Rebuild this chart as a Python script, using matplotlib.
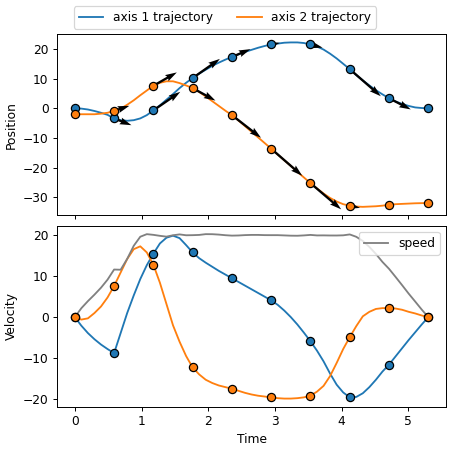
import numpy as np
import matplotlib
matplotlib.use("Agg")
import matplotlib.pyplot as plt
from matplotlib.ticker import MultipleLocator

# waypoints
wp_time = [0.0, 0.589, 1.178, 1.767, 2.356, 2.944, 3.533, 4.122, 4.711, 5.3]
wp_pos1 = [0.0, -3.4, -0.7, 10.2, 17.3, 21.5, 21.5, 13.2, 3.4, 0.0]
wp_pos2 = [-2.0, -0.9, 7.6, 6.8, -2.3, -13.6, -25.2, -32.8, -32.5, -31.9]
wp_vel1 = [0.0, -8.8, 15.5, 15.8, 9.5, 4.1, -5.9, -19.6, -11.6, 0.0]
wp_vel2 = [0.0, 7.6, 12.8, -12.3, -17.5, -19.6, -19.2, -4.9, 2.2, 0.0]

# sampled trajectory, 55 samples from 0 to 5.3 s
t = np.linspace(0, 5.3, 55)
pos1 = [0.0, -0.1, -0.4, -0.9, -1.5, -2.2, -3.4, -4.0, -4.2, -4.0,
        -3.4, -2.3, -0.7, 1.0, 2.9, 4.8, 6.8, 8.6, 10.2, 11.7,
        13.0, 14.3, 15.4, 16.4, 17.3, 18.2, 19.0, 19.7, 20.4, 21.0,
        21.5, 21.8, 22.1, 22.2, 22.2, 22.0, 21.5, 20.8, 19.8, 18.4,
        16.8, 15.0, 13.2, 11.2, 9.4, 7.7, 6.1, 4.7, 3.4, 2.3,
        1.5, 0.8, 0.3, 0.1, 0.0]
pos2 = [-2.0, -2.0, -2.0, -2.0, -1.8, -1.5, -0.9, -0.1, 1.2, 2.7,
        4.4, 6.0, 7.6, 8.6, 9.1, 9.1, 8.5, 7.7, 6.8, 5.5,
        4.0, 2.4, 0.8, -0.8, -2.3, -4.1, -6.0, -7.9, -9.8, -11.7,
        -13.6, -15.6, -17.5, -19.4, -21.4, -23.3, -25.2, -27.0, -28.7, -30.2,
        -31.4, -32.3, -32.8, -33.1, -33.2, -33.1, -33.0, -32.8, -32.5, -32.3,
        -32.2, -32.1, -32.0, -31.95, -31.9]
vel1 = [0.0, -2.1, -3.9, -5.4, -6.7, -7.8, -8.8, -3.9, 1.0, 5.3,
        9.3, 12.7, 15.5, 18.0, 19.4, 19.9, 19.3, 17.6, 15.8, 14.4,
        13.3, 12.3, 11.3, 10.4, 9.5, 8.6, 7.7, 6.8, 5.9, 5.0,
        4.1, 3.0, 1.6, 0.0, -1.8, -3.8, -5.9, -8.2, -10.8, -13.8,
        -16.5, -18.4, -19.6, -19.5, -18.6, -17.1, -15.3, -13.3, -11.6, -9.6,
        -7.6, -5.6, -3.7, -1.8, 0.0]
vel2 = [0.0, -0.6, -0.3, 1.0, 2.6, 4.8, 7.6, 10.9, 14.2, 16.6,
        17.3, 15.8, 12.8, 8.4, 3.2, -2.0, -6.0, -9.5, -12.3, -14.0,
        -15.3, -16.1, -16.7, -17.1, -17.5, -18.0, -18.5, -18.9, -19.2, -19.4,
        -19.6, -19.8, -19.9, -19.9, -19.8, -19.6, -19.2, -18.2, -16.8, -14.4,
        -11.2, -7.8, -4.9, -2.2, 0.2, 1.3, 2.0, 2.2, 2.2, 2.1,
        1.8, 1.3, 0.9, 0.4, 0.0]

speed = np.hypot(vel1, vel2)

fig, (ax1, ax2) = plt.subplots(2, 1, sharex=True, figsize=(450 / 88, 450 / 88), dpi=88)
fig.subplots_adjust(left=0.127, right=0.991, top=0.924, bottom=0.096, hspace=0.06)

# position
ax1.plot(t, pos1, color="C0", label="axis 1 trajectory", zorder=1)
ax1.plot(t, pos2, color="C1", label="axis 2 trajectory", zorder=1)
ones = np.ones(len(wp_time))
for p, v in [(wp_pos1, wp_vel1), (wp_pos2, wp_vel2)]:
    ax1.quiver(wp_time, p, ones, v, angles="xy", scale_units="width", scale=185,
               width=0.006, color="k", zorder=2)
ax1.scatter(wp_time, wp_pos1, s=45, color="C0", edgecolor="k", zorder=3)
ax1.scatter(wp_time, wp_pos2, s=45, color="C1", edgecolor="k", zorder=3)
ax1.yaxis.set_major_locator(MultipleLocator(10))
ax1.set_ylabel("Position")

# velocity
ax2.plot(t, vel1, color="C0", zorder=1)
ax2.plot(t, vel2, color="C1", zorder=1)
ax2.plot(t, speed, color="gray", label="speed", zorder=1)
ax2.scatter(wp_time, wp_vel1, s=45, color="C0", edgecolor="k", zorder=3)
ax2.scatter(wp_time, wp_vel2, s=45, color="C1", edgecolor="k", zorder=3)
ax2.yaxis.set_major_locator(MultipleLocator(10))
ax2.set_ylabel("Velocity")
ax2.set_xlabel("Time")
ax2.legend(loc="upper right")

fig.legend(*ax1.get_legend_handles_labels(), loc="upper center", ncol=2)

fig.savefig("out.png", dpi=88)
